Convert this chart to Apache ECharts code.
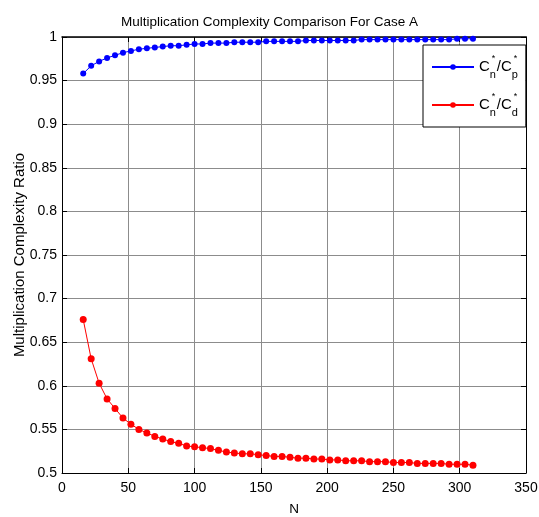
<!DOCTYPE html>
<html>
<head>
<meta charset="utf-8">
<script src="https://cdn.jsdelivr.net/npm/echarts@6/dist/echarts.min.js"></script>
<style>
html,body{margin:0;padding:0;background:#fff;}
#chart{width:539px;height:517px;}
</style>
</head>
<body>
<div id="chart"></div>
<script>
var N = [16,22,28,34,40,46,52,58,64,70,76,82,88,94,100,106,112,118,124,130,136,142,148,154,160,166,172,178,184,190,196,202,208,214,220,226,232,238,244,250,256,262,268,274,280,286,292,298,304,310];
var ratioP = [0.958,0.967,0.972,0.976,0.979,0.982,0.984,0.986,0.987,0.988,0.989,0.990,0.990,0.991,0.992,0.992,0.993,0.993,0.993,0.994,0.994,0.994,0.994,0.995,0.995,0.995,0.995,0.995,0.996,0.996,0.996,0.996,0.996,0.996,0.996,0.997,0.997,0.997,0.997,0.997,0.997,0.997,0.997,0.997,0.997,0.997,0.997,0.998,0.998,0.998];
var ratioD = [0.676,0.631,0.603,0.585,0.574,0.563,0.556,0.550,0.546,0.542,0.539,0.536,0.534,0.531,0.530,0.529,0.528,0.526,0.524,0.523,0.522,0.522,0.521,0.520,0.519,0.519,0.518,0.517,0.517,0.516,0.516,0.515,0.515,0.514,0.514,0.514,0.513,0.513,0.513,0.512,0.512,0.512,0.511,0.511,0.511,0.511,0.510,0.510,0.510,0.509];
var seriesNames = ['Cn*/Cp*', 'Cn*/Cd*'];
var legendSubs = {'Cn*/Cp*': 'p', 'Cn*/Cd*': 'd'};
var titleText = 'Multiplication Complexity Comparison For Case A';
var xName = 'N';
var yName = 'Multiplication Complexity Ratio';

// pick a narrow font if one is installed, else regular sans at smaller size
function hasFont(name){
  var c = document.createElement('canvas').getContext('2d');
  var s = 'Multiplication Complexity 0123456789';
  c.font = '20px monospace'; var a = c.measureText(s).width;
  c.font = '20px "' + name + '", monospace'; var b = c.measureText(s).width;
  return Math.abs(a - b) > 0.5;
}
var narrow = hasFont('Liberation Sans Narrow');
var FONT = narrow ? '"Liberation Sans Narrow", sans-serif' : '"Liberation Sans", Arial, sans-serif';
var FS = narrow ? 16 : 13.5;      // title / x name
var YS = narrow ? 16 : 15;        // y name (runs vertically)
var TS = narrow ? 16.5 : 14;      // tick labels
var LC = narrow ? 17 : 15;        // legend main glyphs
var LS = narrow ? 12 : 11;        // legend subscripts
var LT = narrow ? 10 : 9;         // legend stars

function pairs(xs, ys){ return xs.map(function(x,i){ return [x, ys[i]]; }); }

var chart = echarts.init(document.getElementById('chart'), null, {renderer:'canvas'});
var tickStyle = {show:true, inside:true, length:5, lineStyle:{color:'#000', width:1}};
var option = {
  animation:false,
  backgroundColor:'#fff',
  title:{
    text:titleText, left:'center', top:10,
    textStyle:{fontFamily:FONT, fontSize:FS, fontWeight:'normal', color:'#000'}
  },
  grid:{left:62, right:13, top:37, bottom:44, containLabel:false, outerBoundsMode:'none', show:false},
  legend:{
    orient:'vertical', left:423, top:45,
    padding:[9,7,9,8], itemGap:12,
    itemWidth:42, itemHeight:7,
    backgroundColor:'#fff', borderColor:'#000', borderWidth:1, borderRadius:0,
    data:seriesNames,
    formatter:function(name){
      return '{c|C}{sn|n}{st|*}{sl|/}{c|C}{sp|' + legendSubs[name] + '}{st2|*}';
    },
    textStyle:{
      fontFamily:FONT, color:'#000', fontSize:LC, lineHeight:26,
      rich:{
        c:{fontFamily:FONT, fontSize:LC, lineHeight:26, verticalAlign:'middle', color:'#000'},
        sl:{fontFamily:FONT, fontSize:LC, lineHeight:26, verticalAlign:'middle', color:'#000'},
        sn:{fontFamily:FONT, fontSize:LS, lineHeight:13, verticalAlign:'bottom', width:2, color:'#000'},
        sp:{fontFamily:FONT, fontSize:LS, lineHeight:13, verticalAlign:'bottom', width:2, color:'#000'},
        st:{fontFamily:FONT, fontSize:LT, lineHeight:12, verticalAlign:'top', width:5, color:'#000'},
        st2:{fontFamily:FONT, fontSize:LT, lineHeight:12, verticalAlign:'top', width:5, color:'#000'}
      }
    }
  },
  xAxis:[{
    type:'value', min:0, max:350, interval:50,
    name:xName, nameLocation:'middle', nameGap:29, nameMoveOverlap:false,
    nameTextStyle:{fontFamily:FONT, fontSize:FS, color:'#000'},
    axisLine:{show:true, onZero:false, lineStyle:{color:'#000', width:1}},
    axisTick:tickStyle,
    axisLabel:{fontFamily:FONT, fontSize:TS, color:'#000', margin:8},
    splitLine:{show:true, lineStyle:{color:'#8c8c8c', width:1}}
  },{
    type:'value', position:'top', min:0, max:350, interval:50,
    axisLine:{show:true, onZero:false, lineStyle:{color:'#000', width:1.5}},
    axisTick:tickStyle, axisLabel:{show:false}, splitLine:{show:false}
  }],
  yAxis:[{
    type:'value', min:0.5, max:1, interval:0.05,
    name:yName, nameLocation:'middle', nameGap:35, nameMoveOverlap:false,
    nameTextStyle:{fontFamily:FONT, fontSize:YS, color:'#000'},
    axisLine:{show:true, onZero:false, lineStyle:{color:'#000', width:1}},
    axisTick:tickStyle,
    axisLabel:{fontFamily:FONT, fontSize:TS, color:'#000', margin:5,
      formatter:function(v){ return String(Math.round(v*100)/100); }},
    splitLine:{show:true, lineStyle:{color:'#8c8c8c', width:1}}
  },{
    type:'value', position:'right', min:0.5, max:1, interval:0.05,
    axisLine:{show:true, onZero:false, lineStyle:{color:'#000', width:1}},
    axisTick:tickStyle, axisLabel:{show:false}, splitLine:{show:false}
  }],
  series:[{
    name:seriesNames[0], type:'line', data:pairs(N, ratioP),
    symbol:'circle', symbolSize:6, showSymbol:true,
    lineStyle:{color:'#0000ff', width:1}, itemStyle:{color:'#0000ff'},
    z:3
  },{
    name:seriesNames[1], type:'line', data:pairs(N, ratioD),
    symbol:'circle', symbolSize:7, showSymbol:true,
    lineStyle:{color:'#ff0000', width:1}, itemStyle:{color:'#ff0000'},
    z:3
  }]
};
chart.setOption(option);
</script>
</body>
</html>
